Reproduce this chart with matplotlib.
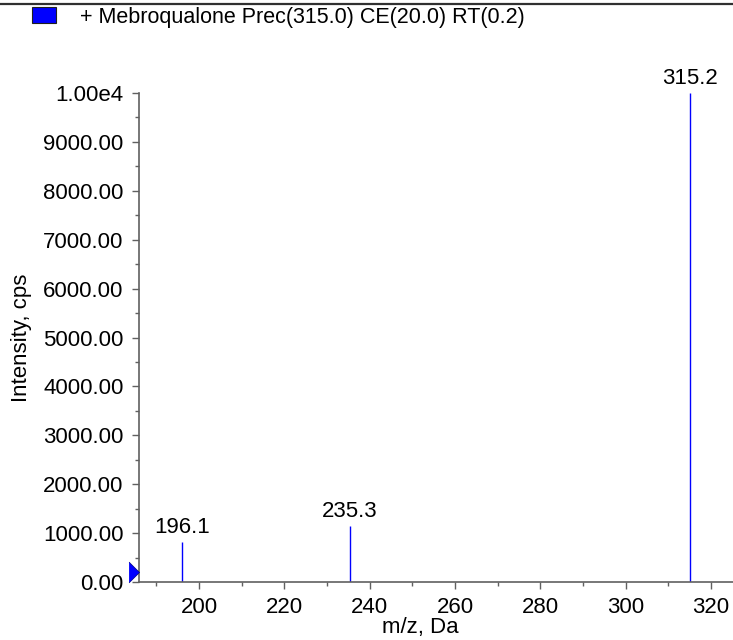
import matplotlib
matplotlib.use("Agg")
import matplotlib.pyplot as plt
from matplotlib.patches import Rectangle
from matplotlib.lines import Line2D
from matplotlib.ticker import MultipleLocator, FuncFormatter

# ---- data ----
peak_mz = [196.1, 235.3, 315.2]
peak_intensity = [820, 1150, 10000]
peak_labels = ["196.1", "235.3", "315.2"]
legend_title = "+ Mebroqualone Prec(315.0) CE(20.0) RT(0.2)"
x_label = "m/z, Da"
y_label = "Intensity, cps"

plt.rcParams['font.family'] = ['Liberation Sans', 'DejaVu Sans']
FS = 16
spine_col = '#606060'

fig = plt.figure(figsize=(7.33, 6.40), dpi=100)
ax = fig.add_axes([139/733, 58/640, (733-139)/733, (582-93)/640])

ax.vlines(peak_mz, 0, peak_intensity, colors='#0000FF', linewidth=1.0)
for mz, h, lab in zip(peak_mz, peak_intensity, peak_labels):
    ax.annotate(lab, (mz, h), xytext=(0, 3), textcoords='offset points',
                ha='center', va='bottom', fontsize=FS, color='black')

ax.set_xlim(185.9, 325.2)
ax.set_ylim(0, 10000)

for s in ['top', 'right']:
    ax.spines[s].set_visible(False)
for s in ['left', 'bottom']:
    ax.spines[s].set_color(spine_col)
    ax.spines[s].set_linewidth(1.2)

ax.xaxis.set_major_locator(MultipleLocator(20))
ax.xaxis.set_minor_locator(MultipleLocator(10))
ax.yaxis.set_major_locator(MultipleLocator(1000))
ax.yaxis.set_minor_locator(MultipleLocator(500))

def yfmt(v, pos):
    if v >= 10000:
        return "1.00e4"
    return f"{v:.2f}"
ax.yaxis.set_major_formatter(FuncFormatter(yfmt))

ax.tick_params(axis='both', which='major', direction='out', length=5, width=1,
               color=spine_col, labelsize=FS, labelcolor='black')
ax.tick_params(axis='both', which='minor', direction='out', length=3, width=1,
               color=spine_col)
ax.tick_params(axis='y', which='major', pad=6)
ax.tick_params(axis='x', which='major', pad=6)

ax.set_xlabel(x_label, fontsize=FS)
ax.xaxis.set_label_coords(0.473, -0.094)
ax.xaxis.label.set_va('center')
ax.set_ylabel(y_label, fontsize=FS)
ax.yaxis.set_label_coords(-0.197, 0.5)
ax.yaxis.label.set_va('center')

# triangle marker at origin of y axis
ax.plot([0], [200], marker=[(-1, -1), (0, 0), (-1, 1)], markersize=15,
        color='#0000FF', markeredgecolor='#000080', markeredgewidth=0.5,
        transform=ax.get_yaxis_transform(), clip_on=False, zorder=5)

# top border line
fig.add_artist(Line2D([0, 1], [1 - 4/640, 1 - 4/640], transform=fig.transFigure,
                      color='#303030', linewidth=1.6))

# legend
fig.add_artist(Rectangle((32/733, 1 - 23/640), 24/733, 16/640, transform=fig.transFigure,
                         facecolor='#0000FF', edgecolor='#202020', linewidth=0.8))
fig.text(80/733, 1 - 17/640, legend_title, fontsize=15.5, ha='left', va='center')

fig.savefig("out.png", dpi=100)
